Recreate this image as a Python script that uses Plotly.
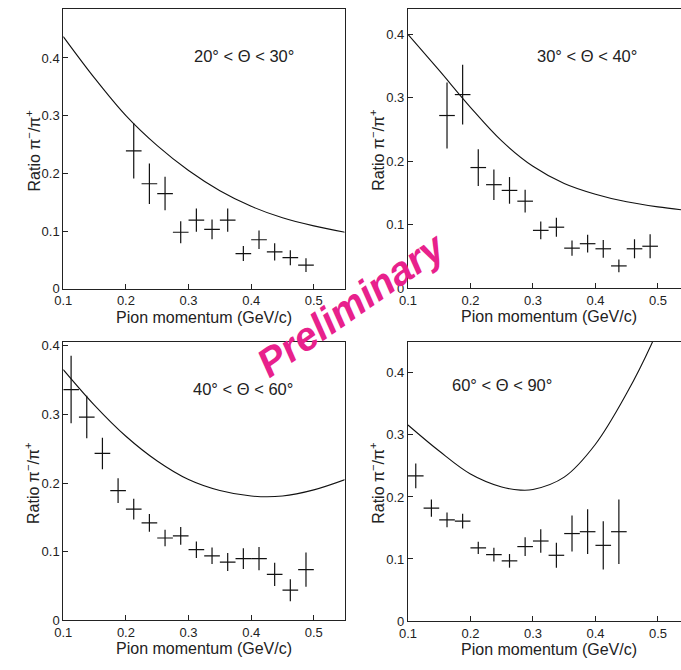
import plotly.graph_objects as go

# ---------------- data ----------------
panel_labels = ["20° < Θ < 30°", "30° < Θ < 40°", "40° < Θ < 60°", "60° < Θ < 90°"]

p1_x = [0.2125, 0.2375, 0.2625, 0.2875, 0.3125, 0.3375, 0.3625, 0.3875, 0.4125, 0.4375, 0.4625, 0.4875]
p1_y = [0.239, 0.182, 0.165, 0.098, 0.119, 0.103, 0.119, 0.061, 0.085, 0.064, 0.054, 0.041]
p1_err = [0.048, 0.035, 0.029, 0.019, 0.020, 0.017, 0.020, 0.013, 0.016, 0.015, 0.013, 0.012]
p1_curve_x = [0.10, 0.15, 0.20, 0.25, 0.30, 0.35, 0.40, 0.45, 0.50, 0.55]
p1_curve_y = [0.437, 0.365, 0.300, 0.248, 0.205, 0.170, 0.143, 0.123, 0.109, 0.098]

p2_x = [0.1625, 0.1875, 0.2125, 0.2375, 0.2625, 0.2875, 0.3125, 0.3375, 0.3625, 0.3875, 0.4125, 0.4375, 0.4625, 0.4875]
p2_y = [0.272, 0.305, 0.190, 0.163, 0.154, 0.137, 0.091, 0.096, 0.063, 0.070, 0.062, 0.035, 0.062, 0.066]
p2_err = [0.052, 0.047, 0.029, 0.024, 0.021, 0.018, 0.014, 0.015, 0.012, 0.014, 0.014, 0.010, 0.015, 0.019]
p2_curve_x = [0.10, 0.15, 0.20, 0.25, 0.30, 0.35, 0.40, 0.45, 0.50, 0.55]
p2_curve_y = [0.400, 0.343, 0.285, 0.232, 0.192, 0.165, 0.148, 0.136, 0.128, 0.122]

p3_x = [0.1125, 0.1375, 0.1625, 0.1875, 0.2125, 0.2375, 0.2625, 0.2875, 0.3125, 0.3375, 0.3625, 0.3875, 0.4125, 0.4375, 0.4625, 0.4875]
p3_y = [0.336, 0.296, 0.243, 0.189, 0.162, 0.142, 0.120, 0.123, 0.103, 0.094, 0.085, 0.090, 0.090, 0.067, 0.044, 0.074]
p3_err = [0.049, 0.031, 0.023, 0.018, 0.015, 0.013, 0.012, 0.013, 0.012, 0.012, 0.013, 0.015, 0.017, 0.017, 0.016, 0.025]
p3_curve_x = [0.10, 0.15, 0.20, 0.25, 0.30, 0.35, 0.40, 0.45, 0.50, 0.55]
p3_curve_y = [0.365, 0.313, 0.268, 0.232, 0.205, 0.189, 0.181, 0.181, 0.190, 0.205]

p4_x = [0.1125, 0.1375, 0.1625, 0.1875, 0.2125, 0.2375, 0.2625, 0.2875, 0.3125, 0.3375, 0.3625, 0.3875, 0.4125, 0.4375]
p4_y = [0.234, 0.182, 0.163, 0.161, 0.118, 0.107, 0.097, 0.120, 0.129, 0.106, 0.141, 0.144, 0.122, 0.144]
p4_err = [0.020, 0.014, 0.012, 0.012, 0.010, 0.011, 0.011, 0.015, 0.019, 0.020, 0.029, 0.036, 0.039, 0.052]
p4_curve_x = [0.10, 0.15, 0.20, 0.25, 0.28, 0.30, 0.35, 0.40, 0.45, 0.49, 0.52]
p4_curve_y = [0.316, 0.274, 0.237, 0.216, 0.211, 0.212, 0.232, 0.285, 0.367, 0.447, 0.520]

x_halfwidth = 0.0125
x_tick_vals = [0.1, 0.2, 0.3, 0.4, 0.5]
y_tick_vals = [0, 0.1, 0.2, 0.3, 0.4]

# ---------------- layout geometry ----------------
W, H = 681, 670
panels = [
    dict(xs=p1_x, ys=p1_y, es=p1_err, cx=p1_curve_x, cy=p1_curve_y,
         px=(55, 340), py=(5, 290), xr=[0.1, 0.549], yr=[0, 0.485], full=True),
    dict(xs=p2_x, ys=p2_y, es=p2_err, cx=p2_curve_x, cy=p2_curve_y,
         px=(404.3, 681), py=(5, 289.3), xr=[0.1, 0.5369], yr=[0, 0.440], full=False),
    dict(xs=p3_x, ys=p3_y, es=p3_err, cx=p3_curve_x, cy=p3_curve_y,
         px=(55, 340), py=(344.3, 627.7), xr=[0.1, 0.549], yr=[0, 0.405], full=True),
    dict(xs=p4_x, ys=p4_y, es=p4_err, cx=p4_curve_x, cy=p4_curve_y,
         px=(404.3, 681), py=(344, 628.3), xr=[0.1, 0.5369], yr=[0, 0.450], full=False),
]
label_pos = [(238, 53), (586, 53), (237, 392), (500, 388)]

FONT = "Liberation Sans, Arial, Helvetica, sans-serif"
fig = go.Figure()
annotations = []

for i, p in enumerate(panels):
    n = i + 1
    xa = "x" if n == 1 else f"x{n}"
    ya = "y" if n == 1 else f"y{n}"
    fig.add_trace(go.Scatter(
        x=p["cx"], y=p["cy"], mode="lines", line=dict(color="#111", width=1.1, shape="spline"),
        xaxis=xa, yaxis=ya, showlegend=False, hoverinfo="skip"))
    fig.add_trace(go.Scatter(
        x=p["xs"], y=p["ys"], mode="markers",
        marker=dict(size=1, color="rgba(0,0,0,0)"),
        error_x=dict(type="constant", value=x_halfwidth, width=0, thickness=1.2, color="#111"),
        error_y=dict(type="data", array=p["es"], width=0, thickness=1.2, color="#111"),
        xaxis=xa, yaxis=ya, showlegend=False))

    x0, x1 = p["px"]
    yt, yb = p["py"]
    common = dict(showgrid=False, zeroline=False, showline=True, linecolor="#222", linewidth=1,
                  ticks="inside", ticklen=5, tickcolor="#222", tickwidth=1,
                  tickfont=dict(family=FONT, size=13, color="#222"))
    fig.layout[f"xaxis{'' if n == 1 else n}"] = dict(
        domain=[x0 / W, min(x1 / W, 1.0)], range=p["xr"], anchor=ya,
        tickvals=x_tick_vals, ticktext=[f"{v:.1f}" for v in x_tick_vals],
        mirror=True, **common)
    fig.layout[f"yaxis{'' if n == 1 else n}"] = dict(
        domain=[1 - yb / H, 1 - yt / H], range=p["yr"], anchor=xa,
        tickvals=y_tick_vals, ticktext=["0"] + [f"{v:.1f}" for v in y_tick_vals[1:]],
        mirror=p["full"], **common)

    annotations.append(dict(text="Pion momentum (GeV/c)", xref="paper", yref="paper",
                            x=(x0 + x0 + 285) / 2 / W, y=1 - (yb + 29) / H,
                            showarrow=False, font=dict(family=FONT, size=16, color="#222"),
                            xanchor="center", yanchor="middle"))
    annotations.append(dict(text="Ratio π<sup>−</sup>/π<sup>+</sup>", xref="paper", yref="paper",
                            x=(x0 - 31) / W, y=1 - ((yt + yb) / 2 + 2) / H, textangle=-90,
                            showarrow=False, font=dict(family=FONT, size=16, color="#222"),
                            xanchor="center", yanchor="middle"))
    lx, ly = label_pos[i]
    annotations.append(dict(text=panel_labels[i], xref="paper", yref="paper",
                            x=lx / W, y=1 - ly / H, showarrow=False,
                            font=dict(family=FONT, size=16.5, color="#222"),
                            xanchor="center", yanchor="middle"))

annotations.append(dict(text="<b><i>Preliminary</i></b>", xref="paper", yref="paper",
                        x=347 / W, y=1 - 305 / H, textangle=-35, showarrow=False,
                        font=dict(family=FONT, size=40, color="#E8218C"),
                        xanchor="center", yanchor="middle"))

fig.update_layout(width=W, height=H, margin=dict(l=0, r=0, t=0, b=0),
                  paper_bgcolor="white", plot_bgcolor="white",
                  annotations=annotations)

fig.write_html("out.html")
